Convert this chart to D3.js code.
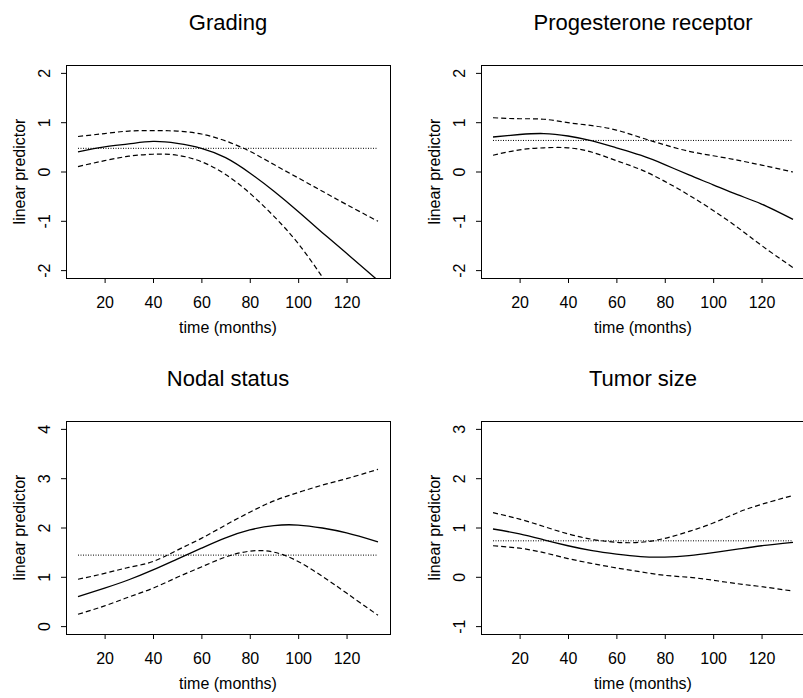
<!DOCTYPE html>
<html>
<head>
<meta charset="utf-8">
<script src="https://cdn.jsdelivr.net/npm/d3@7"></script>
<style>
  body { margin: 0; background: #fff; }
  svg { font-family: "Liberation Sans", Arial, sans-serif; }
</style>
</head>
<body>
<svg id="chart" width="803" height="698"></svg>
<script>
// time points the curves were read at (months)
const months = [9, 20, 30, 40, 50, 60, 70, 80, 90, 100, 110, 120, 133];
const xTicks = [20, 40, 60, 80, 100, 120];

// Grading
const gradingFit   = [0.40, 0.50, 0.56, 0.61, 0.57, 0.47, 0.28, -0.03, -0.40, -0.81, -1.24, -1.66, -2.21];
const gradingUpper = [0.71, 0.77, 0.82, 0.83, 0.82, 0.76, 0.62, 0.41, 0.14, -0.13, -0.40, -0.67, -1.01];
const gradingLower = [0.10, 0.22, 0.31, 0.35, 0.33, 0.20, -0.06, -0.44, -0.91, -1.46, -2.14, -2.85, -3.75];
const gradingConst = 0.47;

// Progesterone receptor
const progFit   = [0.70, 0.75, 0.77, 0.72, 0.62, 0.48, 0.33, 0.14, -0.07, -0.27, -0.47, -0.66, -0.97];
const progUpper = [1.09, 1.07, 1.06, 0.99, 0.93, 0.84, 0.69, 0.54, 0.41, 0.32, 0.23, 0.13, -0.01];
const progLower = [0.33, 0.44, 0.48, 0.48, 0.39, 0.22, 0.04, -0.20, -0.48, -0.79, -1.13, -1.50, -1.95];
const progConst = 0.63;

// Nodal status
const nodalFit   = [0.60, 0.77, 0.94, 1.14, 1.36, 1.58, 1.79, 1.95, 2.04, 2.05, 1.99, 1.89, 1.71];
const nodalUpper = [0.95, 1.07, 1.19, 1.31, 1.54, 1.78, 2.05, 2.31, 2.54, 2.71, 2.86, 2.99, 3.18];
const nodalLower = [0.24, 0.41, 0.59, 0.77, 0.99, 1.20, 1.40, 1.52, 1.50, 1.31, 1.01, 0.67, 0.22];
const nodalConst = 1.44;

// Tumor size
const tumorFit   = [0.97, 0.87, 0.75, 0.63, 0.53, 0.46, 0.41, 0.40, 0.43, 0.49, 0.56, 0.63, 0.70];
const tumorUpper = [1.30, 1.17, 1.02, 0.87, 0.76, 0.70, 0.70, 0.78, 0.92, 1.09, 1.30, 1.47, 1.65];
const tumorLower = [0.63, 0.58, 0.49, 0.37, 0.27, 0.18, 0.10, 0.03, -0.01, -0.07, -0.14, -0.20, -0.29];
const tumorConst = 0.73;

const panels = [
  { title: "Grading", left: 66, top: 65, ylim: [-2, 2], ticks: [-2, -1, 0, 1, 2],
    fit: gradingFit, upper: gradingUpper, lower: gradingLower, ref: gradingConst },
  { title: "Progesterone receptor", left: 481, top: 65, ylim: [-2, 2], ticks: [-2, -1, 0, 1, 2],
    fit: progFit, upper: progUpper, lower: progLower, ref: progConst },
  { title: "Nodal status", left: 66, top: 421, ylim: [0, 4], ticks: [0, 1, 2, 3, 4],
    fit: nodalFit, upper: nodalUpper, lower: nodalLower, ref: nodalConst },
  { title: "Tumor size", left: 481, top: 421, ylim: [-1, 3], ticks: [-1, 0, 1, 2, 3],
    fit: tumorFit, upper: tumorUpper, lower: tumorLower, ref: tumorConst }
];

const width = 324;
const height = 213;
const svg = d3.select("#chart");

// R style axis range: data range padded by 4% on each side
function pad(lim) {
  const d = (lim[1] - lim[0]) * 0.04;
  return [lim[0] - d, lim[1] + d];
}

panels.forEach(function(p, i) {
  const x = d3.scaleLinear().domain(pad(d3.extent(months))).range([0, width]);
  const y = d3.scaleLinear().domain(pad(p.ylim)).range([height, 0]);

  const g = svg.append("g").attr("transform", `translate(${p.left},${p.top})`);

  g.append("clipPath").attr("id", "clip" + i)
    .append("rect").attr("width", width).attr("height", height);

  // axes
  const xAxis = g.append("g")
    .attr("transform", `translate(0,${height})`)
    .call(d3.axisBottom(x).tickValues(xTicks).tickSize(5).tickPadding(14));
  xAxis.select(".domain").remove();

  // plain hyphen for negatives, like the original
  const yAxis = g.append("g")
    .call(d3.axisLeft(y).tickValues(p.ticks).tickSize(5).tickFormat(d => String(d)));
  yAxis.select(".domain").remove();
  yAxis.selectAll(".tick text")
    .attr("x", 0).attr("dy", 0)
    .attr("text-anchor", "middle")
    .attr("transform", "translate(-16,0) rotate(-90)");

  svg.selectAll(".tick text").attr("font-size", 16).attr("font-family", null).attr("fill", "#000");
  svg.selectAll(".tick line").attr("stroke", "#000");

  // box
  g.append("rect")
    .attr("x", 0.5).attr("y", 0.5)
    .attr("width", width).attr("height", height)
    .attr("fill", "none").attr("stroke", "#000").attr("stroke-width", 1);

  // curves
  const line = d3.line()
    .x((d, k) => x(months[k]))
    .y(d => y(d))
    .curve(d3.curveNatural);

  const curves = g.append("g").attr("clip-path", `url(#clip${i})`);

  curves.append("line")
    .attr("x1", x(months[0])).attr("x2", x(months[months.length - 1]))
    .attr("y1", y(p.ref)).attr("y2", y(p.ref))
    .attr("stroke", "#000").attr("stroke-width", 1).attr("stroke-dasharray", "1,1.5");

  [p.upper, p.lower].forEach(function(band) {
    curves.append("path").datum(band)
      .attr("d", line)
      .attr("fill", "none").attr("stroke", "#000")
      .attr("stroke-width", 1.2).attr("stroke-dasharray", "5,3");
  });

  curves.append("path").datum(p.fit)
    .attr("d", line)
    .attr("fill", "none").attr("stroke", "#000").attr("stroke-width", 1.3);

  // titles
  g.append("text")
    .attr("x", width / 2).attr("y", -35)
    .attr("text-anchor", "middle")
    .attr("font-size", 22)
    .text(p.title);

  g.append("text")
    .attr("x", width / 2).attr("y", height + 55)
    .attr("text-anchor", "middle")
    .attr("font-size", 16)
    .text("time (months)");

  g.append("text")
    .attr("transform", `translate(-41,${height / 2}) rotate(-90)`)
    .attr("text-anchor", "middle")
    .attr("font-size", 16)
    .text("linear predictor");
});
</script>
</body>
</html>
